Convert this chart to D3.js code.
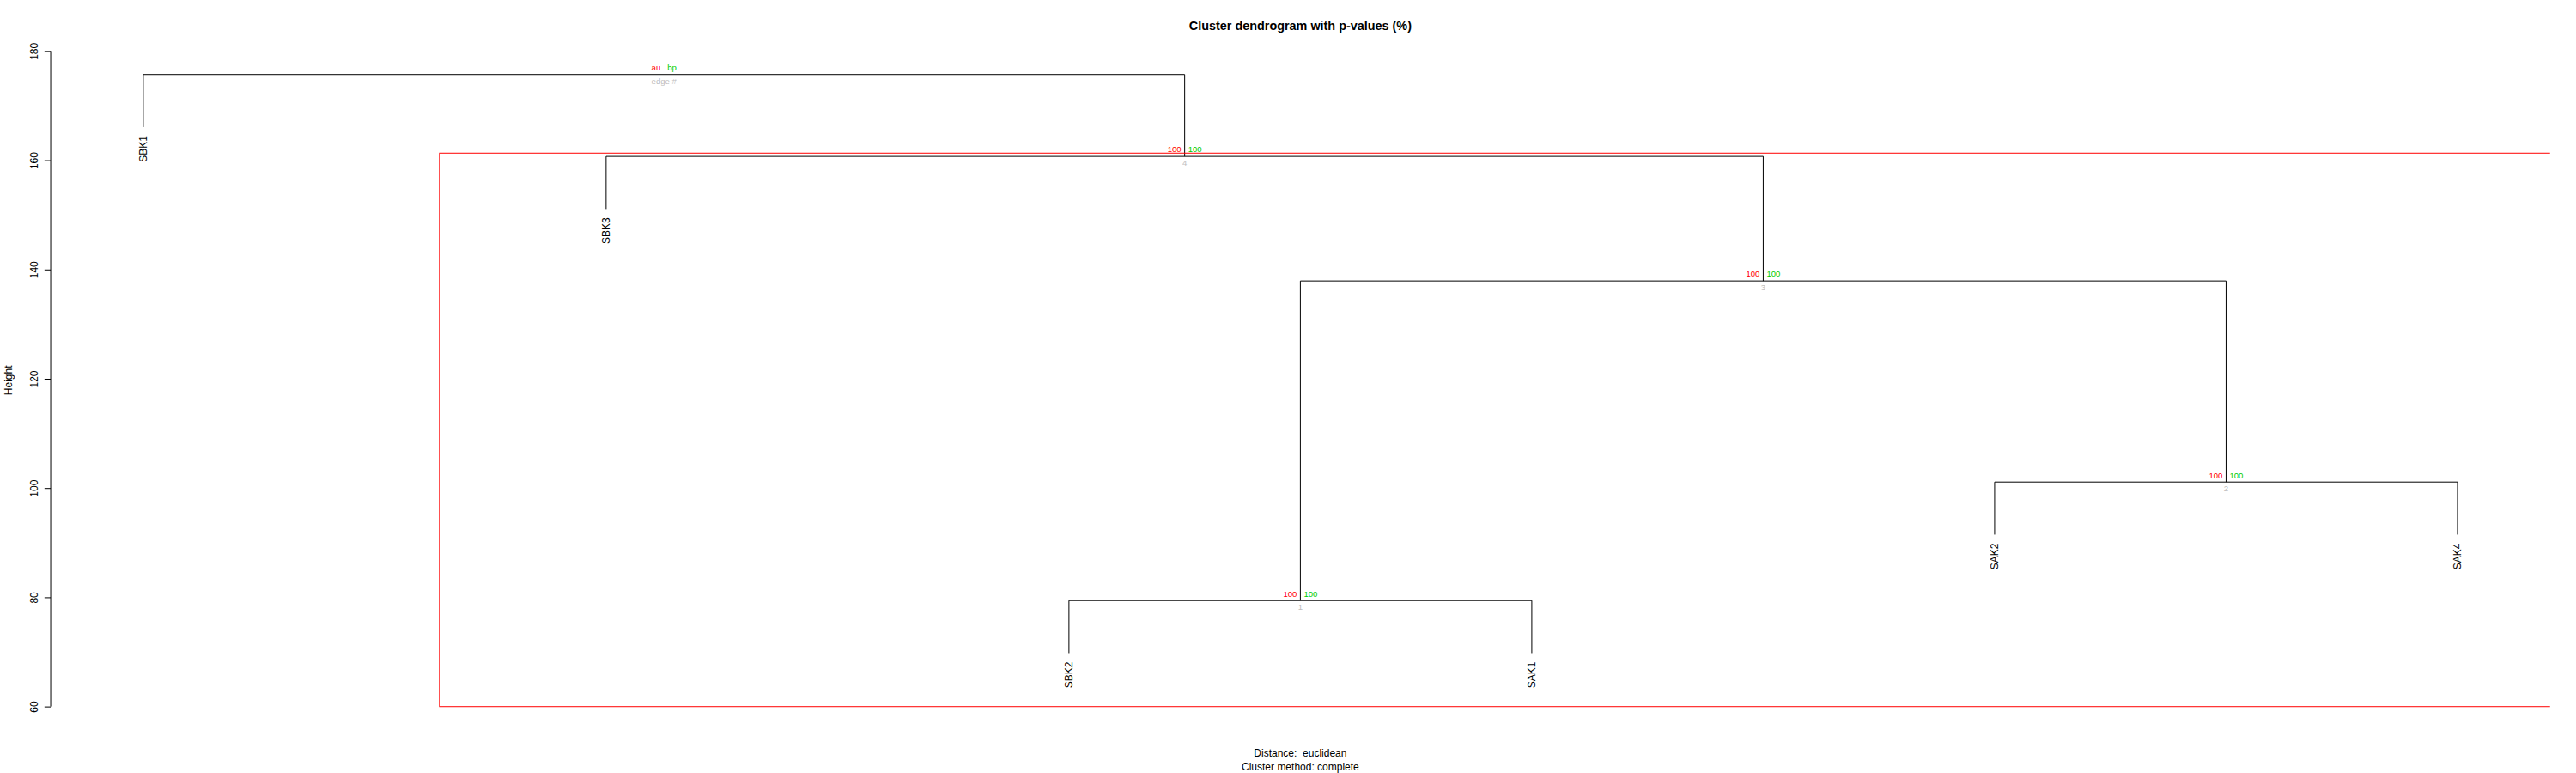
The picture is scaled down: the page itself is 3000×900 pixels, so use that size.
<!DOCTYPE html>
<html><head><meta charset="utf-8">
<script src="https://cdn.jsdelivr.net/npm/d3@7"></script>
<style>
body{margin:0;background:#fff}
svg{display:block}
text{font-family:"Liberation Sans",Arial,Helvetica,sans-serif;white-space:pre}
</style>
</head><body>
<svg id="chart" width="3000" height="900"></svg>
<script>
// ---------- data ----------
const leafLabels   = ["SBK1","SBK3","SBK2","SAK1","SAK2","SAK4"]; // plotted order
const mergeA       = ["SBK2","SAK2","e1","SBK3","SBK1"];
const mergeB       = ["SAK1","SAK4","e2","e3","e4"];
const mergeHeight  = [79.4, 101.1, 137.9, 160.7, 175.7];
const auValues     = [100, 100, 100, 100];
const bpValues     = [100, 100, 100, 100];
const edgeIds      = [1, 2, 3, 4];
const legendLabels = ["au", "bp", "edge #"];
const yTicks       = [60, 80, 100, 120, 140, 160, 180];
const titleText    = "Cluster dendrogram with p-values (%)";
const xlabText     = "Distance:  euclidean";
const subText      = "Cluster method: complete";
const yLabelText   = "Height";
const hang         = 0.1;
const alphaPct     = 95;

// ---------- layout ----------
const lineH = 14.4;
const plot = {left: 4.1*lineH, right: 3000 - 2.1*lineH, top: 4.1*lineH, bottom: 900 - 5.1*lineH};
const nLeaf = leafLabels.length;
const xPad = 0.04*(nLeaf-1);
const xDom = [1 - xPad, nLeaf + xPad];
const yDom = [59.38, 180.05];
const x = d3.scaleLinear().domain(xDom).range([plot.left, plot.right]);
const y = d3.scaleLinear().domain(yDom).range([plot.bottom, plot.top]);

const COL = {au:"#FF0000", bp:"#00CD00", edge:"#BEBEBE", line:"#000", rect:"#FF0000"};

const svg = d3.select("#chart");
svg.append("rect").attr("width",3000).attr("height",900).attr("fill","#fff");

svg.append("defs").append("clipPath").attr("id","plotclip")
  .append("rect").attr("x",plot.left).attr("y",plot.top)
  .attr("width",plot.right-plot.left).attr("height",plot.bottom-plot.top);

// ---------- tree geometry ----------
const hangAmt = hang*(d3.max(mergeHeight)-d3.min(mergeHeight));
const nodes = {};
leafLabels.forEach((l,i)=>{ nodes[l] = {x:i+1, leaf:true, members:[i+1]}; });
mergeHeight.forEach((h,i)=>{
  const a = nodes[mergeA[i]], b = nodes[mergeB[i]];
  nodes["e"+(i+1)] = {x:(a.x+b.x)/2, h:h, leaf:false, members:a.members.concat(b.members)};
});

const g = svg.append("g");
mergeHeight.forEach((h,i)=>{
  const a = nodes[mergeA[i]], b = nodes[mergeB[i]];
  const ya = a.leaf ? h - hangAmt : a.h;
  const yb = b.leaf ? h - hangAmt : b.h;
  const p = d3.path();
  p.moveTo(x(a.x), y(ya)); p.lineTo(x(a.x), y(h)); p.lineTo(x(b.x), y(h)); p.lineTo(x(b.x), y(yb));
  g.append("path").attr("d",p.toString()).attr("fill","none")
    .attr("stroke",COL.line).attr("stroke-width",1);
  [[a,ya,mergeA[i]],[b,yb,mergeB[i]]].forEach(([nd,yy,name])=>{
    if(nd.leaf){
      g.append("text").attr("transform",`translate(${x(nd.x)},${y(yy)+10}) rotate(-90)`)
        .attr("text-anchor","end").attr("dy","0.36em").attr("font-size",12).attr("fill","#000")
        .text(name);
    }
  });
});

// ---------- p-values ----------
const pvFont = 9.6;
mergeHeight.forEach((h,i)=>{
  const nd = nodes["e"+(i+1)];
  const isRoot = i === mergeHeight.length-1;
  const au = isRoot ? legendLabels[0] : auValues[i];
  const bp = isRoot ? legendLabels[1] : bpValues[i];
  const ed = isRoot ? legendLabels[2] : edgeIds[i];
  const cx = x(nd.x), cy = y(h);
  g.append("text").attr("x",cx-4).attr("y",cy-8).attr("dy","0.35em").attr("text-anchor","end")
    .attr("font-size",pvFont).attr("fill",COL.au).text(au);
  g.append("text").attr("x",cx+4).attr("y",cy-8).attr("dy","0.35em").attr("text-anchor","start")
    .attr("font-size",pvFont).attr("fill",COL.bp).text(bp);
  g.append("text").attr("x",cx).attr("y",cy+7.5).attr("dy","0.35em").attr("text-anchor","middle")
    .attr("font-size",pvFont).attr("fill",COL.edge).text(ed);
});

// ---------- pvrect ----------
const mx = (xDom[1]-xDom[0])/mergeHeight.length/3;
const my = (yDom[1]-yDom[0])/200;
const covered = new Set();
const rg = svg.append("g").attr("clip-path","url(#plotclip)");
for(let i = auValues.length-1; i>=0; i--){
  if(auValues[i] >= alphaPct){
    const mem = nodes["e"+(i+1)].members;
    if(mem.some(m=>covered.has(m))) { mem.forEach(m=>covered.add(m)); continue; }
    const xl = d3.min(mem), xr = d3.max(mem);
    rg.append("rect")
      .attr("x", x(xl-mx)).attr("y", y(mergeHeight[i]+my))
      .attr("width", x(xr+mx)-x(xl-mx)).attr("height", y(yDom[0]+my)-y(mergeHeight[i]+my))
      .attr("fill","none").attr("stroke",COL.rect).attr("stroke-width",1);
    mem.forEach(m=>covered.add(m));
  }
}

// ---------- y axis ----------
const ax = svg.append("g").attr("transform",`translate(${plot.left},0)`)
  .call(d3.axisLeft(y).tickValues(yTicks).tickSize(0.5*lineH).tickSizeOuter(0).tickFormat(d3.format("d")));
ax.select(".domain").remove();
ax.append("line").attr("x1",0).attr("x2",0)
  .attr("y1",y(d3.min(yTicks))).attr("y2",y(d3.max(yTicks))).attr("stroke","#000");
ax.selectAll(".tick line").attr("stroke","#000");
ax.selectAll(".tick text")
  .attr("x",null).attr("dy",null)
  .attr("transform",`translate(${-lineH-1},0) rotate(-90)`)
  .attr("text-anchor","middle").attr("font-size",12).attr("fill","#000")
  .attr("font-family",null);

svg.append("text").attr("transform",`translate(14,${(plot.top+plot.bottom)/2}) rotate(-90)`)
  .attr("text-anchor","middle").attr("font-size",12).text(yLabelText);

// ---------- titles ----------
const cxp = (plot.left+plot.right)/2;
svg.append("text").attr("x",cxp).attr("y",35).attr("text-anchor","middle")
  .attr("font-size",14.4).attr("font-weight","bold").text(titleText);
svg.append("text").attr("x",cxp).attr("y",881).attr("text-anchor","middle")
  .attr("font-size",12).text(xlabText);
svg.append("text").attr("x",cxp).attr("y",896.5).attr("text-anchor","middle")
  .attr("font-size",12).text(subText);
</script>
</body></html>
